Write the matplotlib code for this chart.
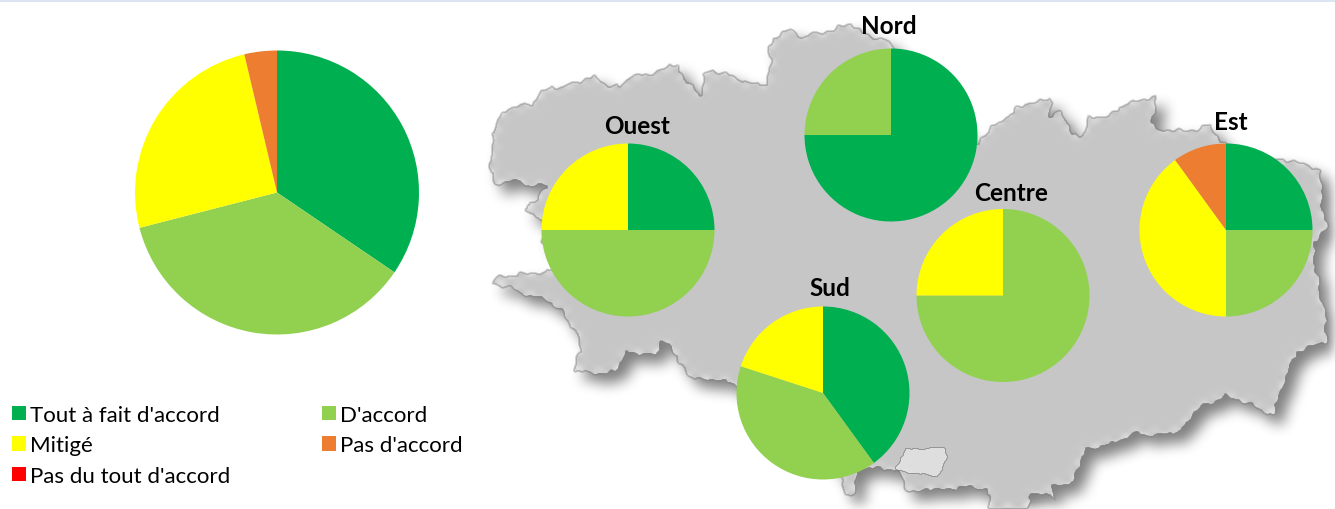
import numpy as np
import matplotlib
matplotlib.use('Agg')
import matplotlib.pyplot as plt
from matplotlib.patches import Patch, Rectangle
from matplotlib.path import Path

plt.rcParams['font.family'] = ['Lato', 'DejaVu Sans']

W, H = 1335, 510

categories = ["Tout à fait d'accord", "D'accord", "Mitigé", "Pas d'accord", "Pas du tout d'accord"]
colors = ['#00B050', '#92D050', '#FFFF00', '#ED7D31', '#FF0000']

total = [34.5, 36.5, 25.3, 3.7, 0]
nord = [75, 25, 0, 0, 0]
ouest = [25, 50, 25, 0, 0]
centre = [0, 75, 25, 0, 0]
sud = [40, 40, 20, 0, 0]
est = [25, 25, 40, 10, 0]

region_names = ['Nord', 'Ouest', 'Centre', 'Sud', 'Est']
region_values = [nord, ouest, centre, sud, est]
region_centers = [(891, 136), (628, 231), (1003, 296.5), (823, 394), (1226, 231)]
region_labels = [(889, 26), (637.5, 126), (1011.5, 194), (830, 289), (1230.5, 123)]

# contour de la carte (pixels)
coast_north = [(490,157),(495,127),(500,115),(513,108),(533,105),(538,97),(550,87),(563,89),(577,82),
               (597,77),(607,87),(622,87),(628,78),(647,75),(660,72),(670,65),(679,65),(682,80),
               (693,85),(700,97),(704,75),(713,71),(733,77),(753,85),(768,85),(767,70),(773,63),
               (768,48),(775,37),(790,31),(802,38),(823,33),(852,24),(860,33),(887,42),(900,53),
               (977,147),(988,130),(1012,115),(1015,108),(1038,103),(1050,97),(1055,103),(1047,118),
               (1062,112),(1072,135),(1082,137),(1088,118),(1108,117),(1125,105),(1157,97),(1152,123),
               (1158,130),(1188,132),(1212,125),(1220,143)]
coast_east = [(1255,160),(1282,160),(1298,163),(1322,172),(1322,197),(1327,230),(1313,247),(1320,293),
              (1327,320),(1327,343),(1297,353),(1282,390),(1273,417),(1248,405),(1225,397),(1195,413),
              (1182,432),(1158,437),(1135,435),(1112,445),(1088,450),(1078,467),(1075,483),(1052,488),
              (1057,500),(1032,494),(1027,512)]
coast_south = [(990,512),(990,500),(985,490),(960,488),(945,492),(925,490),(915,495),(907,490),(897,472),
               (885,470),(860,470),(852,497),(845,495),(840,478),(812,433),(737,388),(720,380),(707,382),
               (687,377),(677,358),(663,342),(657,357),(625,353),(617,373),(593,375),(573,372),(575,362),
               (582,353),(575,333),(567,320),(547,300),(530,298),(513,290),(493,285),(500,277),(523,275),
               (552,271),(580,260),(543,243),(542,220),(525,213),(525,205),(538,203),(540,190),(547,187),
               (527,187),(513,182),(493,187),(492,173)]
inlet = [(900,458),(905,450),(945,448),(947,458),(937,477),(902,472),(895,470)]


def blur(a, size, passes=3):
    kernel = np.ones(size) / size
    for _ in range(passes):
        a = np.apply_along_axis(lambda r: np.convolve(r, kernel, mode='same'), 0, a)
        a = np.apply_along_axis(lambda r: np.convolve(r, kernel, mode='same'), 1, a)
    return a


def rough(points, amp=1.3):
    # cote dentelee : on redecoupe le contour et on le fait onduler
    pts = np.array(points + points[:1], dtype=float)
    d = np.r_[0, np.cumsum(np.hypot(*np.diff(pts, axis=0).T))]
    s = np.arange(0, d[-1], 1.5)
    x, y = np.interp(s, d, pts[:, 0]), np.interp(s, d, pts[:, 1])
    x = x + amp * (np.sin(s / 5.1) + 0.7 * np.sin(s / 2.3 + 1))
    y = y + amp * (np.cos(s / 4.3) + 0.7 * np.sin(s / 1.9))
    return np.c_[x, y]


def raster(points):
    xx, yy = np.meshgrid(np.arange(W) + 0.5, np.arange(H) + 0.5)
    inside = Path(points).contains_points(np.c_[xx.ravel(), yy.ravel()])
    return inside.reshape(H, W).astype(float), xx, yy


fig = plt.figure(figsize=(W / 100, H / 100), dpi=100)
ax = fig.add_axes([0, 0, 1, 1])

outline = rough(coast_north + coast_east + coast_south)
mask, xx, yy = raster(outline)
lake = raster(rough(inlet, 0.6))[0]

# ombre portee
dy, dx = 9, 9
shifted = np.zeros_like(mask)
shifted[dy:, dx:] = mask[:-dy, :-dx]
shadow = blur(shifted, 13)

# carte : gris, bord clair tachete, trait fin sombre
soft = blur(mask, 3, 1)
band = mask * (1 - blur(mask, 13, 2)) * 2
gray = 198 + band * (12 + 14 * np.sin(xx / 3.1) * np.sin(yy / 2.7))
lake_soft = blur(lake, 2, 1)
gray = gray + 24 * lake_soft
edge = 4 * soft * (1 - soft) + 3 * lake_soft * (1 - lake_soft)
gray = gray * (1 - 0.38 * np.clip(edge, 0, 1))
gray = np.clip(gray, 0, 255) / 255

under = 1 - 0.5 * shadow
img = soft * gray + (1 - soft) * under
ax.imshow(img, extent=(0, W, H, 0), cmap='gray', vmin=0, vmax=1, zorder=0, interpolation='bilinear')

# bandeau du haut
ax.add_patch(Rectangle((0, 0), W, 3, fc='#DCE6F2', ec='none', zorder=3))

# l'axe y descend : on inverse le sens pour garder le sens horaire a l'ecran
ax.pie(total, colors=colors, startangle=-90, counterclock=True, radius=142,
       center=(277, 193.5), frame=True, wedgeprops={'zorder': 4, 'lw': 0})

for name, vals, c, lab in zip(region_names, region_values, region_centers, region_labels):
    ax.pie(vals, colors=colors, startangle=-90, counterclock=True, radius=86.5,
           center=c, frame=True, wedgeprops={'zorder': 4, 'lw': 0})
    ax.text(lab[0], lab[1], name, fontsize=17.5, fontweight='bold', color='black',
            ha='center', va='center', zorder=6)

ax.set_xlim(0, W)
ax.set_ylim(H, 0)
ax.set_aspect('auto')
ax.axis('off')

# legende : remplissage par colonnes, d'ou l'ordre
order = [0, 2, 4, 1, 3]
handles = [Patch(fc=colors[i], ec='none', label=categories[i]) for i in order]
ax.legend(handles=handles, ncol=2, frameon=False, fontsize=16, loc='upper left',
          bbox_to_anchor=(12 / W, 1 - 406 / H), borderpad=0, borderaxespad=0,
          handlelength=0.63, handleheight=0.63, handletextpad=0.2,
          labelspacing=0.47, columnspacing=4.1)

fig.savefig('out.png', dpi=100)
